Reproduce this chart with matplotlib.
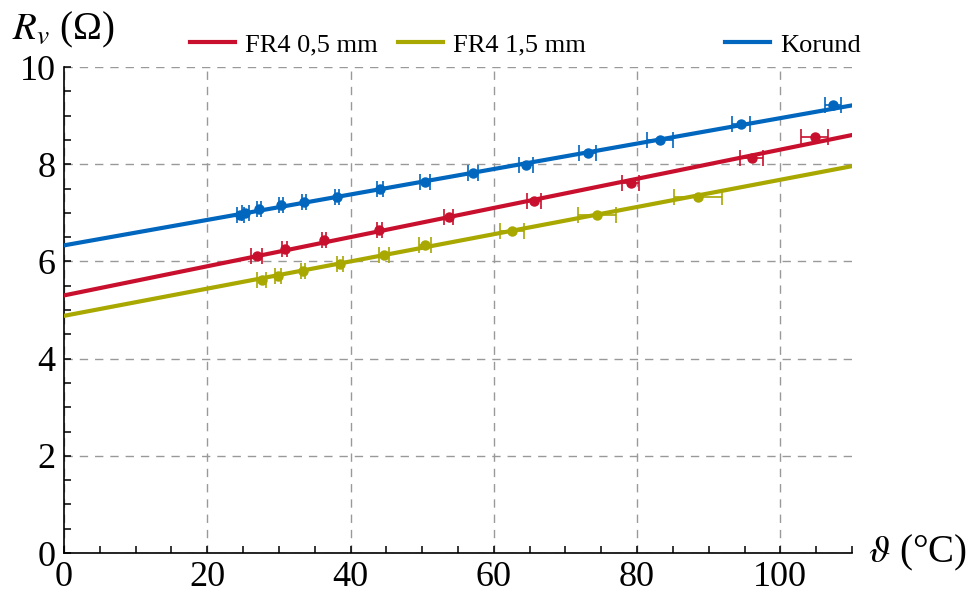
import matplotlib
matplotlib.use('Agg')
import matplotlib.pyplot as plt
from matplotlib.ticker import MultipleLocator

plt.rcParams['font.family'] = ['Liberation Serif', 'DejaVu Serif']
plt.rcParams['mathtext.fontset'] = 'stix'

# Measured points (temperature in °C, resistance in Ohm, x uncertainty)
korund_t = [24.6, 25.3, 27.2, 30.3, 33.5, 38.1, 44.1, 50.4, 57.1, 64.5, 73.1, 83.2, 94.5, 107.3]
korund_r = [6.95, 7.00, 7.07, 7.16, 7.22, 7.33, 7.49, 7.63, 7.82, 7.98, 8.23, 8.50, 8.83, 9.22]
korund_dt = [0.5, 0.5, 0.3, 0.3, 0.3, 0.3, 0.45, 0.7, 0.65, 1.0, 1.2, 1.8, 1.3, 1.1]

fr05_t = [26.9, 30.8, 36.3, 44.0, 53.7, 65.6, 79.1, 96.0, 104.8]
fr05_r = [6.11, 6.26, 6.44, 6.65, 6.91, 7.24, 7.61, 8.13, 8.56]
fr05_dt = [0.8, 0.3, 0.3, 0.35, 0.65, 1.0, 1.2, 1.6, 1.9]

fr15_t = [27.6, 29.9, 33.4, 38.5, 44.7, 50.4, 62.5, 74.4, 88.5]
fr15_r = [5.62, 5.70, 5.80, 5.95, 6.13, 6.34, 6.63, 6.95, 7.33]
fr15_dt = [0.6, 0.4, 0.25, 0.4, 0.7, 0.9, 1.7, 2.7, 3.35]

# Linear fits (end points)
fit_t = [0, 110]
korund_fit = [6.33, 9.21]
fr05_fit = [5.30, 8.60]
fr15_fit = [4.88, 7.96]

series = [
    ('FR4 0,5 mm', fr05_t, fr05_r, fr05_dt, fr05_fit, '#C8102E'),
    ('FR4 1,5 mm', fr15_t, fr15_r, fr15_dt, fr15_fit, '#A8A800'),
    ('Korund', korund_t, korund_r, korund_dt, korund_fit, '#0066BE'),
]

fig = plt.figure(figsize=(9.71, 6.02), dpi=100)
ax = fig.add_axes([64 / 971, 1 - 553 / 602, (852 - 64) / 971, (553 - 67) / 602])

handles = []
for label, t, r, dt, fit, col in series:
    ax.errorbar(t, r, xerr=dt, fmt='o', color=col, ms=6.5, elinewidth=1.2,
                capsize=6, capthick=1.2, zorder=5)
    h, = ax.plot(fit_t, fit, color=col, lw=3, zorder=4)
    handles.append(h)

ax.set_xlim(0, 110)
ax.set_ylim(0, 10)
ax.xaxis.set_major_locator(MultipleLocator(20))
ax.xaxis.set_minor_locator(MultipleLocator(5))
ax.yaxis.set_major_locator(MultipleLocator(2))
ax.yaxis.set_minor_locator(MultipleLocator(0.5))
ax.tick_params(which='both', direction='in', labelsize=26, width=1.1, pad=6)
ax.tick_params(which='major', length=5)
ax.tick_params(which='minor', length=5)

ax.grid(True, which='major', color='#999999', linestyle=(0, (6, 5)), lw=1.0)
ax.spines['top'].set_visible(False)
ax.spines['right'].set_visible(False)
for s in ['left', 'bottom']:
    ax.spines[s].set_linewidth(1.2)

# axis labels
fig.text(12 / 971, 1 - 30 / 602, r'$R_v$ (Ω)', fontsize=28, va='center', ha='left')
ax.text(1.02, 0, r'$\vartheta$ (°C)', transform=ax.transAxes, fontsize=28,
        va='center', ha='left')

# legend entries placed individually
leg_x = [190, 398, 725]
for h, (label, *_), x in zip(handles, series, leg_x):
    leg = fig.legend([h], [label], loc='center left',
                     bbox_to_anchor=(x / 971, 1 - 45 / 602), frameon=False,
                     fontsize=19, handlelength=1.7, handletextpad=0.4,
                     borderpad=0, borderaxespad=0)

fig.savefig('out.png', dpi=100)
